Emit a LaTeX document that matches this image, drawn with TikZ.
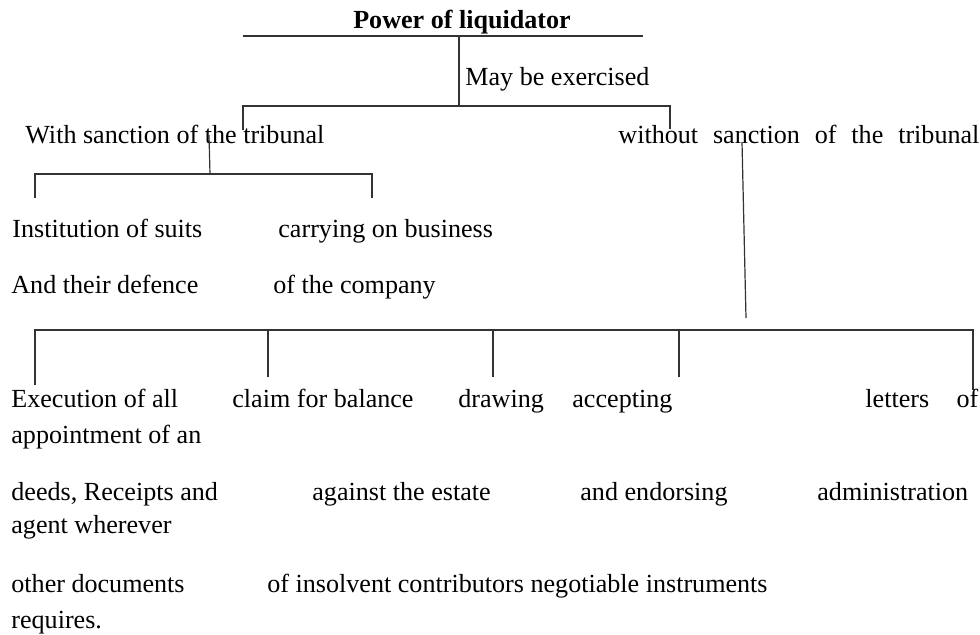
\documentclass[tikz,border=0pt]{standalone}
\usepackage{fontspec}
\setmainfont{Liberation Serif}
\begin{document}
\begin{tikzpicture}[x=0.5pt,y=-0.5pt,
  txt/.style={anchor=base west,inner sep=0pt,font=\fontsize{13.05}{15}\selectfont},
  ttl/.style={anchor=base,inner sep=0pt,font=\fontsize{13.05}{15}\selectfont\bfseries},
  ln/.style={draw=black!80,line width=0.6pt}]
\useasboundingbox (0,0) rectangle (980,634);

% title and first split
\node[ttl] (title) at (462,28) {Power of liquidator};
\coordinate (t1) at (243,36);
\coordinate (t2) at (643,36);
\coordinate (tm) at (459,36);
\coordinate (tb) at (459,106);
\coordinate (l1) at (243,106);
\coordinate (l2) at (670,106);
\coordinate (l1b) at (243,130);
\coordinate (l2b) at (670,129);
\draw[ln] (t1) -- (t2);
\draw[ln] (tm) -- (tb);
\draw[ln] (l1b) -- (l1) -- (l2) -- (l2b);
\node[txt] (may) at (465,85) {May be exercised};

\node[txt] (with) at (25,143) {With sanction of the tribunal};
\node[txt] (without) at (618,143) {\makebox[180.5pt][s]{without sanction of the tribunal}};

% left branch
\coordinate (wa) at (209,135);
\coordinate (wb) at (210,174);
\coordinate (wl) at (35,174);
\coordinate (wr) at (372,174);
\coordinate (wlb) at (35,198);
\coordinate (wrb) at (372,198);
\draw[ln] (wa) -- (wb);
\draw[ln] (wlb) -- (wl) -- (wr) -- (wrb);

\node[txt] (inst1) at (12,237) {Institution of suits};
\node[txt] (inst2) at (11,293) {And their defence};
\node[txt] (carry1) at (278,237) {carrying on business};
\node[txt] (carry2) at (273,293) {of the company};

% right branch
\coordinate (woa) at (742,142);
\coordinate (wob) at (746,318);
\draw[ln] (woa) -- (wob);
\coordinate (b1) at (35,330);
\coordinate (b5) at (973,330);
\coordinate (b1d) at (35,385);
\coordinate (b5d) at (973,390);
\coordinate (b2) at (268,330);
\coordinate (b2d) at (268,377);
\coordinate (b3) at (493,330);
\coordinate (b3d) at (493,377);
\coordinate (b4) at (679,330);
\coordinate (b4d) at (679,377);
\draw[ln] (b1d) -- (b1) -- (b5) -- (b5d);
\draw[ln] (b2) -- (b2d);
\draw[ln] (b3) -- (b3d);
\draw[ln] (b4) -- (b4d);

% bottom texts
\node[txt] (e1) at (11,407) {Execution of all};
\node[txt] (e2) at (11,443) {appointment of an};
\node[txt] (e3) at (11,500) {deeds, Receipts and};
\node[txt] (e4) at (11,533) {agent wherever};
\node[txt] (e5) at (11,592) {other documents};
\node[txt] (e6) at (11,628) {requires.};

\node[txt] (c1) at (232,407) {claim for balance};
\node[txt] (c2) at (312,500) {against the estate};
\node[txt] (c3) at (267,592) {of insolvent contributors negotiable instruments};

\node[txt] (d1) at (458,407) {drawing};
\node[txt] (a1) at (572,407) {accepting};
\node[txt] (a2) at (580,500) {and endorsing};

\node[txt] (let1) at (865,407) {\makebox[56.5pt][s]{letters of}};
\node[txt] (let2) at (817,500) {administration};
\end{tikzpicture}
\end{document}
